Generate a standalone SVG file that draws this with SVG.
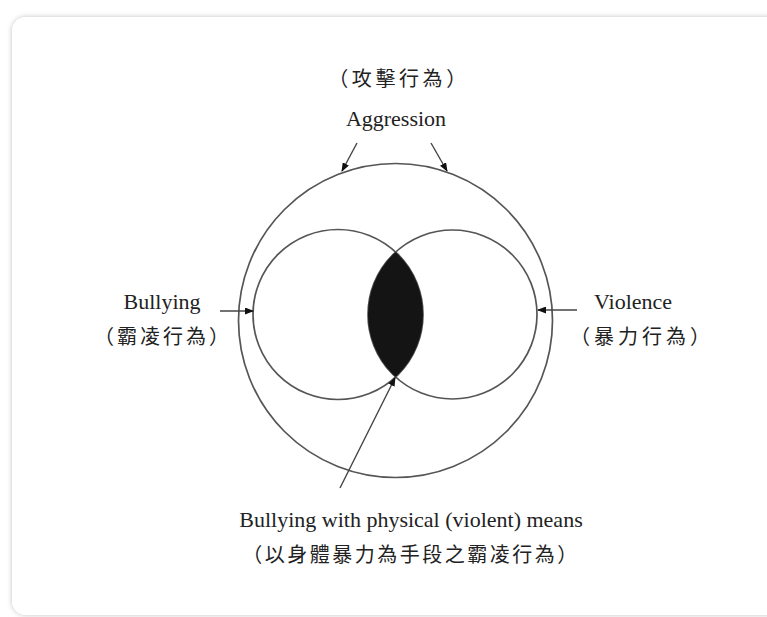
<svg xmlns="http://www.w3.org/2000/svg" width="767" height="617" viewBox="0 0 767 617">
  <style>
    .en { font-family: "Liberation Serif", "Times New Roman", serif; font-size: 22px; fill: #222; text-anchor: middle; }
    .zh { font-family: "Noto Sans CJK TC", "Noto Sans CJK SC", sans-serif; font-size: 20px; fill: #222; text-anchor: middle; }
    .ring { fill: none; stroke: #555; stroke-width: 1.7; }
    .conn { fill: none; stroke: #444; stroke-width: 1.4; marker-end: url(#arrow); }
  </style>
  <defs>
    <marker id="arrow" markerWidth="9" markerHeight="7" refX="8" refY="3.5" orient="auto" markerUnits="userSpaceOnUse">
      <path d="M0,0 L9,3.5 L0,7 Z" fill="#111"/>
    </marker>
    <filter id="shadow" x="-5%" y="-5%" width="110%" height="110%">
      <feDropShadow dx="0" dy="0" stdDeviation="2.5" flood-color="#000" flood-opacity="0.25"/>
    </filter>
    <clipPath id="leftClip">
      <circle cx="338" cy="314.5" r="85"/>
    </clipPath>
  </defs>

  <rect x="0" y="0" width="767" height="617" fill="#ffffff"/>
  <rect x="12" y="17" width="775" height="598" rx="14" fill="#ffffff" filter="url(#shadow)"/>

  <g id="aggression">
    <circle class="ring" cx="395.5" cy="320.5" r="157"/>
    <text class="zh" x="399" y="86" letter-spacing="3.6">（攻擊行為）</text>
    <text class="en" x="396" y="126">Aggression</text>
  </g>

  <g id="bullying">
    <circle class="ring" cx="338" cy="314.5" r="85"/>
    <text class="en" x="162" y="309">Bullying</text>
    <text class="zh" x="163" y="344" letter-spacing="3">（霸凌行為）</text>
  </g>

  <g id="violence">
    <circle class="ring" cx="452.5" cy="314.5" r="84.5"/>
    <text class="en" x="633" y="309">Violence</text>
    <text class="zh" x="642" y="344" letter-spacing="4">（暴力行為）</text>
  </g>

  <g id="overlap">
    <circle cx="452.5" cy="314.5" r="84.5" fill="#141414" clip-path="url(#leftClip)"/>
    <text class="en" x="411" y="527">Bullying with physical (violent) means</text>
    <text class="zh" x="411" y="562" letter-spacing="2.5">（以身體暴力為手段之霸凌行為）</text>
  </g>

  <g id="connectors">
    <line class="conn" x1="357" y1="143" x2="342" y2="171"/>
    <line class="conn" x1="431" y1="143" x2="447" y2="171"/>
    <line class="conn" x1="220" y1="311" x2="253" y2="311"/>
    <line class="conn" x1="577" y1="310" x2="538" y2="310"/>
    <line class="conn" x1="340" y1="488" x2="395" y2="378"/>
  </g>
</svg>
